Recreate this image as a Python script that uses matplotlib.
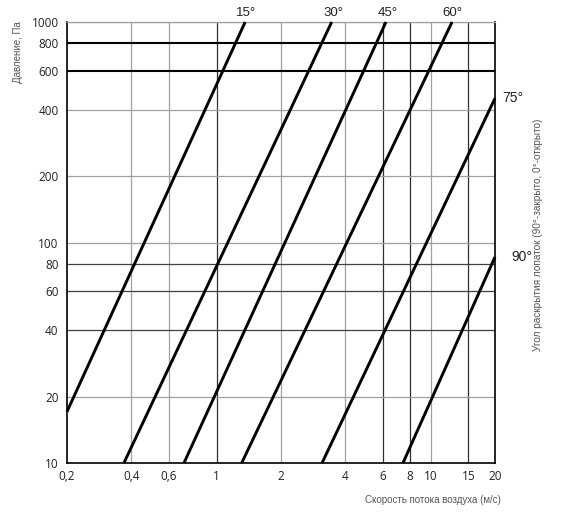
import numpy as np
import matplotlib
matplotlib.use('Agg')
import matplotlib.pyplot as plt

# angle curves: straight lines on log-log, read from the endpoints
angles = ['15°', '30°', '45°', '60°', '75°', '90°']
v_start = [0.2, 0.369, 0.704, 1.31, 3.11, 7.43]
p_start = [17.1, 10, 10, 10, 10, 10]
v_end = [1.36, 3.45, 6.19, 12.6, 20, 20]
p_end = [1000, 1000, 1000, 1000, 451, 86]

x_ticks = [0.2, 0.4, 0.6, 1, 2, 4, 6, 8, 10, 15, 20]
x_labels = ['0,2', '0,4', '0,6', '1', '2', '4', '6', '8', '10', '15', '20']
y_ticks = [10, 20, 40, 60, 80, 100, 200, 400, 600, 800, 1000]
y_labels = ['10', '20', '40', '60', '80', '100', '200', '400', '600', '800', '1000']

x_dark = [1, 6, 8, 15]
x_light = [0.4, 0.6, 2, 4, 10]
y_dark = [40, 60, 80]
y_light = [20, 100, 200, 400, 1000]
y_thick = [600, 800]

fig = plt.figure(figsize=(5.64, 5.17), dpi=100)
ax = fig.add_axes([67/564, 54/517, 428/564, 441/517])
ax.set_xscale('log')
ax.set_yscale('log')
ax.set_xlim(0.2, 20)
ax.set_ylim(10, 1000)

for x in x_light:
    ax.axvline(x, color='#a0a0a0', lw=0.9, zorder=1)
for x in x_dark:
    ax.axvline(x, color='#303030', lw=0.9, zorder=1)
for y in y_light:
    ax.axhline(y, color='#a0a0a0', lw=0.9, zorder=1)
for y in y_dark:
    ax.axhline(y, color='#404040', lw=0.9, zorder=1)
for y in y_thick:
    ax.axhline(y, color='black', lw=1.5, zorder=2)

for i in range(len(angles)):
    ax.plot([v_start[i], v_end[i]], [p_start[i], p_end[i]], color='black',
            lw=2.1, solid_capstyle='butt', zorder=3, clip_on=False)

# angle labels
offsets = [(1, 9), (2, 9), (2, 9), (0, 9), (7, 0), (16, 0)]
for i in range(len(angles)):
    ha = 'center' if p_end[i] >= 1000 else 'left'
    ax.annotate(angles[i], (v_end[i], p_end[i]), xytext=offsets[i],
                textcoords='offset pixels', ha=ha, va='center',
                fontsize=9.5 if i < 4 else 10, color='#222222',
                family='Liberation Sans')

ax.set_xticks(x_ticks)
ax.set_xticklabels(x_labels)
ax.set_yticks(y_ticks)
ax.set_yticklabels(y_labels)
ax.minorticks_off()
ax.tick_params(length=0, labelsize=8.5, colors='#222222')
ax.tick_params(axis='x', pad=5)
ax.tick_params(axis='y', pad=6)
for lab in ax.get_xticklabels() + ax.get_yticklabels():
    lab.set_family('Open Sans')

for s in ['left', 'bottom', 'right']:
    ax.spines[s].set_color('black')
    ax.spines[s].set_linewidth(1.2)
ax.spines['top'].set_color('#a0a0a0')
ax.spines['top'].set_linewidth(0.9)

fig.text(18/564, 1 - 52/517, 'Давление, Па', rotation=90, ha='center',
         va='center', fontsize=7, color='#555555', family='Liberation Sans')
fig.text(433/564, 1 - 500/517, 'Скорость потока воздуха (м/с)', ha='center',
         va='center', fontsize=7, color='#555555', family='Liberation Sans')
fig.text(538/564, 1 - 235/517, 'Угол раскрытия лопаток (90°-закрыто, 0°-открыто)',
         rotation=90, ha='center', va='center', fontsize=7.2, color='#555555',
         family='Liberation Sans')

fig.savefig('out.png', dpi=100)
